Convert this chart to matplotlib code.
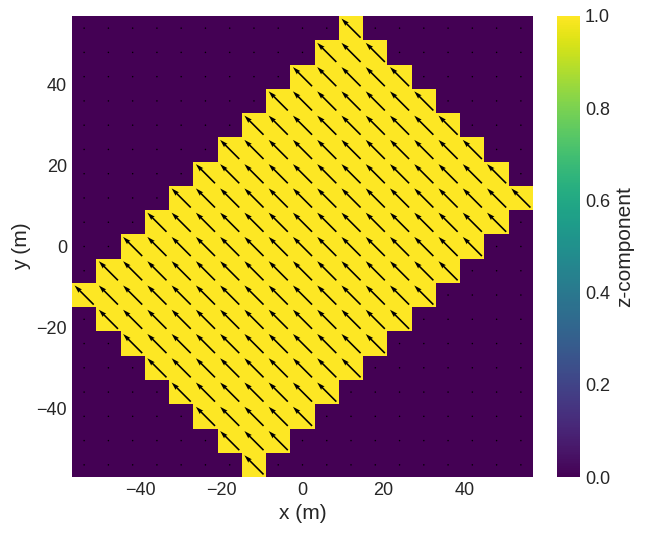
import matplotlib
matplotlib.use("Agg")
import matplotlib.pyplot as plt
import numpy as np

# mesh: 19 x 19 cells of 6 m, centred on the origin
x_min, x_max = -57, 57
y_min, y_max = -57, 57
n_cells = 19

# yellow (magnetised) cells per row, listed from top row to bottom row
row_first = [11, 10, 9, 8, 7, 6, 5, 4, 3, 2, 1, 0, 1, 2, 3, 4, 5, 6, 7]
row_last = [11, 12, 13, 14, 15, 16, 17, 18, 17, 16, 15, 14, 13, 12, 11, 10, 9, 8, 7]

# magnetisation inside the sample
m_inside = [-0.71, 0.71, 1.0]

plt.style.use("seaborn-v0_8-whitegrid")
plt.rcParams["font.family"] = ["Liberation Sans", "DejaVu Sans"]

mask = np.zeros((n_cells, n_cells), dtype=bool)
for i, (a, b) in enumerate(zip(row_first, row_last)):
    mask[n_cells - 1 - i, a:b + 1] = True   # row 0 of the array = bottom

mx = np.where(mask, m_inside[0], 0.0)
my = np.where(mask, m_inside[1], 0.0)
mz = np.where(mask, m_inside[2], 0.0)

dx = (x_max - x_min) / n_cells
xc = np.linspace(x_min + dx / 2, x_max - dx / 2, n_cells)
yc = np.linspace(y_min + dx / 2, y_max - dx / 2, n_cells)
X, Y = np.meshgrid(xc, yc)

fig = plt.figure(figsize=(6.46, 5.36), dpi=100)
ax = fig.add_axes([72 / 646, 59 / 536, 461 / 646, 461 / 536])
cax = fig.add_axes([557 / 646, 59 / 536, 23 / 646, 461 / 536])

im = ax.imshow(mz, origin="lower", extent=[x_min, x_max, y_min, y_max],
               cmap="viridis", vmin=0, vmax=1, interpolation="nearest")
ax.quiver(X, Y, mx, my, pivot="mid", angles="xy", scale_units="xy",
          scale=0.15, width=0.0035, color="black")
ax.set_xlim(x_min, x_max)
ax.set_ylim(y_min, y_max)
ax.grid(False)
for s in ax.spines.values():
    s.set_visible(False)
ax.set_xticks([-40, -20, 0, 20, 40])
ax.set_yticks([-40, -20, 0, 20, 40])
ax.tick_params(labelsize=13)
ax.set_xlabel("x (m)", fontsize=15)
ax.set_ylabel("y (m)", fontsize=15)

cb = fig.colorbar(im, cax=cax)
cb.outline.set_visible(False)
cb.set_ticks([0, 0.2, 0.4, 0.6, 0.8, 1.0])
cb.ax.tick_params(labelsize=13, length=0)
cb.set_label("z-component", fontsize=15)

fig.savefig("out.png", dpi=100)
